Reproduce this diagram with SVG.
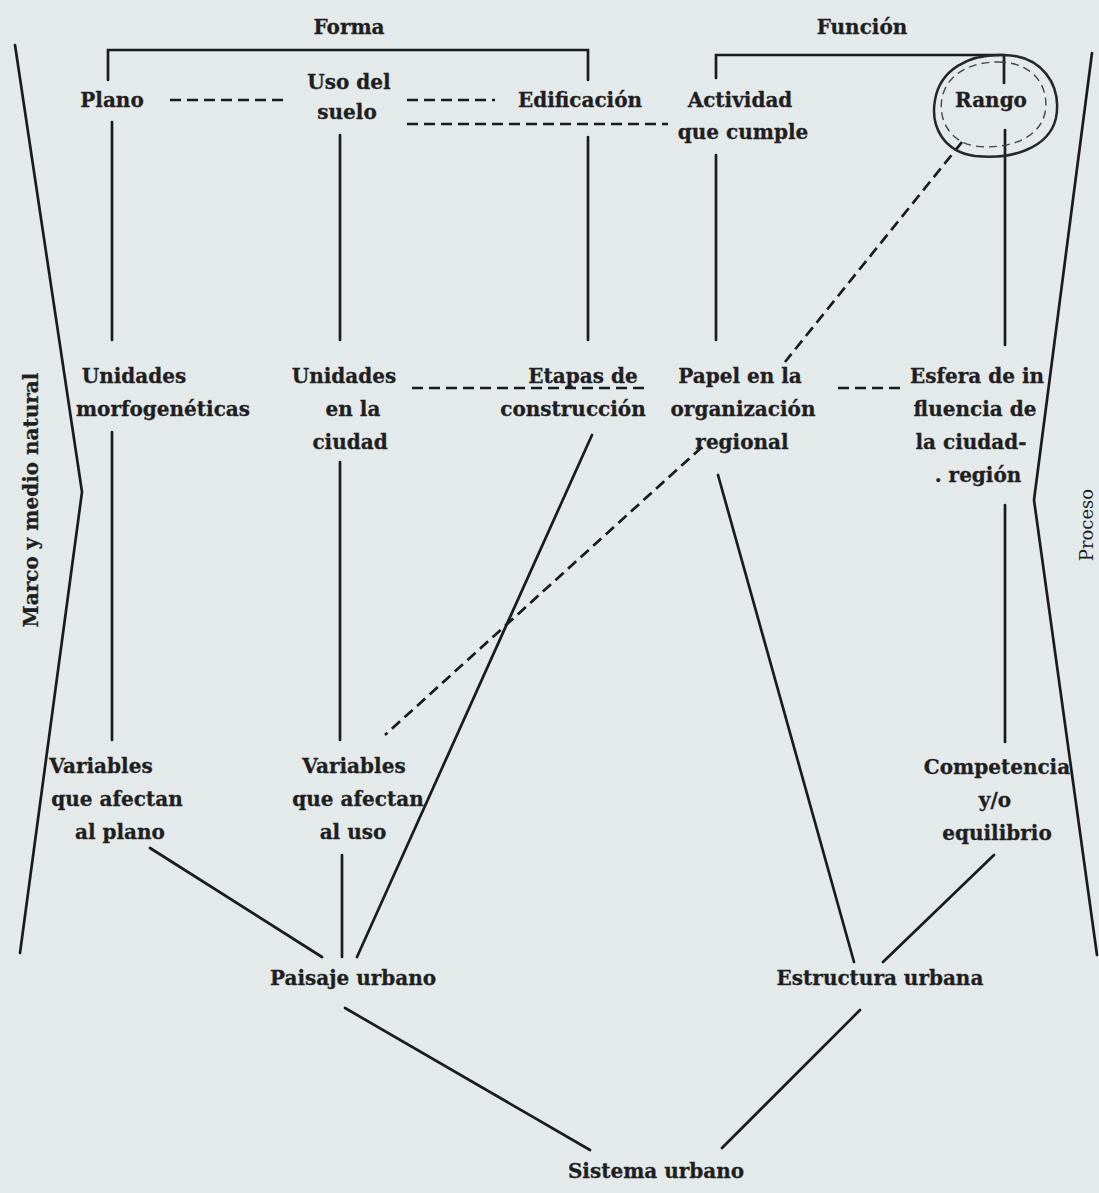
<svg xmlns="http://www.w3.org/2000/svg" width="1099" height="1193" viewBox="0 0 1099 1193">
<style>
.t{font-family:"DejaVu Serif","Liberation Serif",serif;font-weight:bold;font-size:20px;fill:#1f1f1f;stroke:#1f1f1f;stroke-width:0.3;text-anchor:middle}
.s{stroke:#1b1b1b;stroke-width:2.7;fill:none;stroke-linecap:round}
.d{stroke:#1b1b1b;stroke-width:2.7;fill:none;stroke-dasharray:11 6}
</style>
<rect width="1099" height="1193" fill="#e4e9ea"/>
<g id="frame">
<path class="s" d="M15,45 L82,492 L20,953"/>
<path class="s" d="M1092,53 L1034,500 L1097,955"/>
<text class="t" transform="translate(38,500) rotate(-90)">Marco y medio natural</text>
<text class="t" style="font-weight:normal;stroke-width:0;font-size:18px" transform="translate(1093,525) rotate(-90)">Proceso</text>
<text class="t" x="349" y="34">Forma</text>
<text class="t" x="862" y="34">Función</text>
</g>
<g id="connectors">
<path class="s" d="M108,80 V50 H588 V80"/>
<path class="s" d="M716,78 V55 H1004 V83"/>
<path class="s" d="M112,122 V340 M340,135 V340 M588,137 V340 M716,155 V340 M1005,130 V345"/>
<path class="s" d="M112,432 V740 M340,462 V740 M1005,505 V742"/>
<path class="s" d="M150,848 L322,957 M342,855 V957 M592,435 L357,957"/>
<path class="s" d="M718,475 L854,962 M994,855 L883,962"/>
<path class="s" d="M345,1008 L590,1150 M860,1010 L722,1148"/>
<path class="d" d="M170,100 H286 M407,100 H495 M407,124 H668 M412,388 H648 M838,388 H905"/>
<path class="d" d="M962,142 L785,362 M702,447 L385,735"/>
</g>
<g id="rango-circle">
<path d="M1003,55 C1042,55 1062,85 1056,118 C1049,148 1012,160 975,156 C945,152 930,128 935,100 C940,70 968,54 1003,55 Z" fill="none" stroke="#262626" stroke-width="2.5"/>
<path d="M998,62 C1032,62 1050,85 1045,113 C1039,140 1005,150 975,146 C950,142 938,120 942,98 C947,74 970,62 998,62 Z" fill="none" stroke="#444" stroke-width="1.4" stroke-dasharray="8 5"/>
</g>
<g id="n-plano"><text class="t" x="112" y="107">Plano</text></g>
<g id="n-uso"><text class="t" x="349" y="89">Uso del</text><text class="t" x="347" y="119">suelo</text></g>
<g id="n-edificacion"><text class="t" x="580" y="107">Edificación</text></g>
<g id="n-actividad"><text class="t" x="740" y="107">Actividad</text><text class="t" x="743" y="139">que cumple</text></g>
<g id="n-rango"><text class="t" x="991" y="107">Rango</text></g>
<g id="n-unidades-morf"><text class="t" x="134" y="383">Unidades</text><text class="t" x="163" y="416">morfogenéticas</text></g>
<g id="n-unidades-ciudad"><text class="t" x="344" y="383">Unidades</text><text class="t" x="353" y="416">en la</text><text class="t" x="350" y="449">ciudad</text></g>
<g id="n-etapas"><text class="t" x="583" y="383">Etapas de</text><text class="t" x="573" y="416">construcción</text></g>
<g id="n-papel"><text class="t" x="740" y="383">Papel en la</text><text class="t" x="743" y="416">organización</text><text class="t" x="742" y="449">regional</text></g>
<g id="n-esfera"><text class="t" x="977" y="383">Esfera de in</text><text class="t" x="975" y="416">fluencia de</text><text class="t" x="971" y="449">la ciudad-</text><text class="t" x="978" y="482">. región</text></g>
<g id="n-var-plano"><text class="t" x="101" y="773">Variables</text><text class="t" x="117" y="806">que afectan</text><text class="t" x="120" y="839">al plano</text></g>
<g id="n-var-uso"><text class="t" x="354" y="773">Variables</text><text class="t" x="358" y="806">que afectan</text><text class="t" x="353" y="839">al uso</text></g>
<g id="n-competencia"><text class="t" x="997" y="774">Competencia</text><text class="t" x="995" y="807">y/o</text><text class="t" x="997" y="840">equilibrio</text></g>
<g id="n-paisaje"><text class="t" x="353" y="985">Paisaje urbano</text></g>
<g id="n-estructura"><text class="t" x="880" y="985">Estructura urbana</text></g>
<g id="n-sistema"><text class="t" x="656" y="1178">Sistema urbano</text></g>
</svg>
